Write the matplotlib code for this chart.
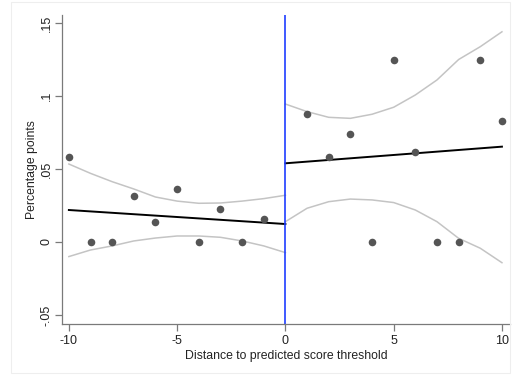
import numpy as np
import matplotlib.pyplot as plt
from matplotlib.patches import Rectangle

plt.rcParams['font.family'] = ['Liberation Sans', 'DejaVu Sans']

# Binned means by distance to threshold
x_left = [-10, -9, -8, -7, -6, -5, -4, -3, -2, -1]
y_left = [0.0584, 0.0, 0.0, 0.0317, 0.0135, 0.0365, 0.0, 0.0224, 0.0, 0.0155]
x_right = [1, 2, 3, 4, 5, 6, 7, 8, 9, 10]
y_right = [0.0877, 0.0584, 0.0738, 0.0, 0.1247, 0.0619, 0.0, 0.0, 0.1247, 0.0831]

# Linear fits at each side
fit_x_left = [-10, 0]
fit_y_left = [0.0219, 0.0123]
fit_x_right = [0, 10]
fit_y_right = [0.0539, 0.0653]

# Confidence bands
band_x_left = [-10, -9, -8, -7, -6, -5, -4, -3, -2, -1, 0]
band_hi_left = [0.0534, 0.047, 0.0413, 0.0363, 0.0308, 0.028, 0.0265, 0.0267, 0.028, 0.0297, 0.032]
band_lo_left = [-0.010, -0.0055, -0.0027, 0.0007, 0.0027, 0.0041, 0.0041, 0.0032, 0.0007, -0.0027, -0.0073]
band_x_right = [0, 1, 2, 3, 4, 5, 6, 7, 8, 9, 10]
band_hi_right = [0.0945, 0.0893, 0.0854, 0.0847, 0.0875, 0.0923, 0.1007, 0.111, 0.125, 0.1338, 0.144]
band_lo_right = [0.0139, 0.0231, 0.0276, 0.0294, 0.0288, 0.027, 0.0219, 0.0139, 0.0025, -0.0043, -0.0142]

x_ticks = [-10, -5, 0, 5, 10]
y_ticks = [-0.05, 0, 0.05, 0.1, 0.15]
y_tick_labels = ['-.05', '0', '.05', '.1', '.15']

fig = plt.figure(figsize=(5.12, 3.75), dpi=100)
ax = fig.add_axes([0.121, 0.136, 0.875, 0.824])

band_color = '#c4c4c4'
ax.plot(band_x_left, band_hi_left, color=band_color, lw=1.1)
ax.plot(band_x_left, band_lo_left, color=band_color, lw=1.1)
ax.plot(band_x_right, band_hi_right, color=band_color, lw=1.1)
ax.plot(band_x_right, band_lo_right, color=band_color, lw=1.1)

ax.plot(fit_x_left, fit_y_left, color='black', lw=1.4)
ax.plot(fit_x_right, fit_y_right, color='black', lw=1.4)

ax.scatter(x_left + x_right, y_left + y_right, s=30, color='#555555', zorder=3, linewidths=0)

ax.axvline(0, color='#1f3dff', lw=1.2)

ax.set_xlim(-10.32, 10.37)
ax.set_ylim(-0.0562, 0.1555)
ax.set_xticks(x_ticks)
ax.set_xticklabels([str(t) for t in x_ticks])
ax.set_yticks(y_ticks)
ax.set_yticklabels(y_tick_labels, rotation=90, va='center')

for side in ['top', 'right']:
    ax.spines[side].set_visible(False)
for side in ['left', 'bottom']:
    ax.spines[side].set_color('#7a7a7a')
    ax.spines[side].set_linewidth(0.9)
ax.tick_params(direction='out', length=5, width=0.9, color='#7a7a7a',
               labelsize=9, labelcolor='#222222')
ax.tick_params(axis='y', pad=1.5)
ax.tick_params(axis='x', pad=3)

ax.set_xlabel('Distance to predicted score threshold', fontsize=8.8, color='#222222', labelpad=2)
ax.set_ylabel('Percentage points', fontsize=8.8, color='#222222', labelpad=2)

# faint frame around the figure
fig.patches.append(Rectangle((11 / 512, 2 / 375), 499 / 512, 371 / 375, transform=fig.transFigure,
                             fill=False, edgecolor='#eeeeee', lw=0.8))

fig.savefig('out.png', dpi=100)
